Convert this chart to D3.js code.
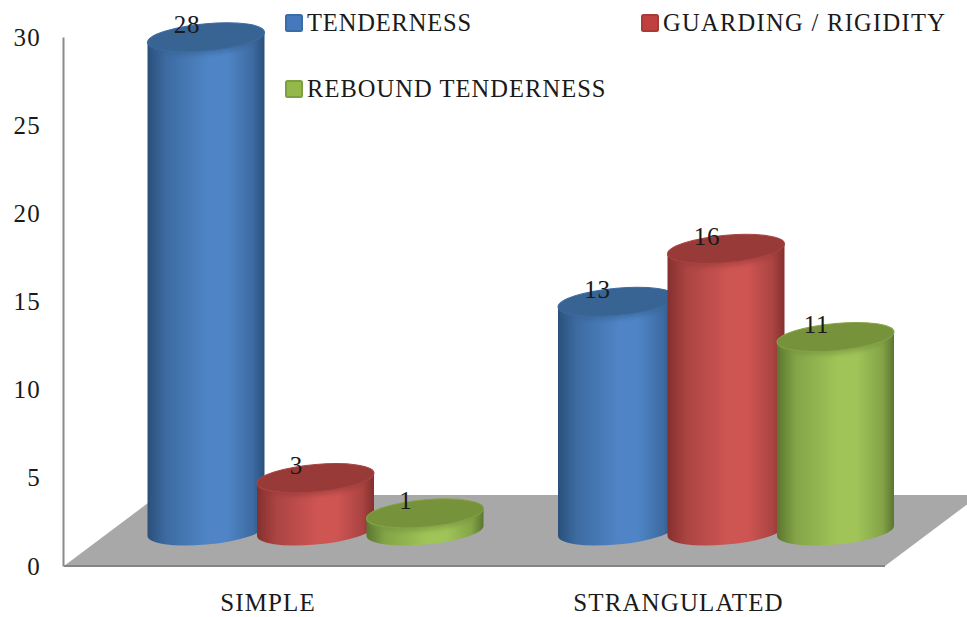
<!DOCTYPE html>
<html>
<head>
<meta charset="utf-8">
<style>
  html, body { margin: 0; padding: 0; background: #fff; }
  svg { display: block; }
  text { font-family: "Liberation Serif", serif; fill: #1a1a1a; }
</style>
<script src="https://cdn.jsdelivr.net/npm/d3@7"></script>
</head>
<body>
<svg id="chart" width="967" height="617"></svg>
<script>
// Chart data
const categories = ["SIMPLE", "STRANGULATED"];
const seriesNames = ["TENDERNESS", "GUARDING / RIGIDITY", "REBOUND TENDERNESS"];
const tenderness = [28, 13];
const guarding = [3, 16];
const rebound = [1, 11];
const yTicks = [0, 5, 10, 15, 20, 25, 30];

const seriesValues = [tenderness, guarding, rebound];
const palette = [
  { top: "#376493", edge: "#2a5079", mid: "#4f85c6", rim: "#3d6ba2", key: "#4479bb", keyEdge: "#3a6ca8" },
  { top: "#973a38", edge: "#84302e", mid: "#cf5553", rim: "#aa4442", key: "#c0403d", keyEdge: "#a83a37" },
  { top: "#76933c", edge: "#5a7630", mid: "#a1c459", rim: "#84a447", key: "#94b84a", keyEdge: "#7e9f3e" }
];

const svg = d3.select("#chart");
const defs = svg.append("defs");

// Scales: the value scale runs along the back wall, categories along the floor
const y = d3.scaleLinear().domain([0, 30]).range([566, 37]);
const xCategory = d3.scaleBand().domain(categories).range([110.25, 931.25]);
const xSeries = d3.scalePoint().domain(seriesNames).range([-109.5, 109.5]);

// Perspective settings for the floor and cylinders
const baseY = y(0) - 35;
const rx = 58.5, ry = 13.6, shear = 0.086;
const floorBackY = 495, floorSlope = 0.75;
const floorLeft = 64, floorRight = 885;
const labelShiftX = -47.5;

// Horizontal shading that gives each cylinder its roundness
palette.forEach((c, i) => {
  const g = defs.append("linearGradient").attr("id", "body" + i)
    .attr("x1", 0).attr("x2", 1).attr("y1", 0).attr("y2", 0);
  [[0, c.edge], [0.16, c.rim], [0.52, c.mid], [0.68, c.mid], [0.9, c.rim], [1, c.edge]]
    .forEach(([o, col]) => g.append("stop").attr("offset", o).attr("stop-color", col));
});

defs.append("filter").attr("id", "soft").attr("x", "-5%").attr("y", "-30%").attr("width", "110%").attr("height", "160%")
  .append("feGaussianBlur").attr("stdDeviation", 2);

// Floor
const floorDepth = (y(0) - floorBackY) / floorSlope;
svg.append("path")
  .attr("d", d3.line()([
    [floorLeft, y(0)],
    [floorRight, y(0)],
    [floorRight + floorDepth, floorBackY],
    [floorLeft + floorDepth, floorBackY]
  ]) + "Z")
  .attr("fill", "#a8a8a8");
svg.append("line")
  .attr("x1", floorLeft).attr("x2", floorRight)
  .attr("y1", y(0)).attr("y2", y(0))
  .attr("stroke", "#858585").attr("stroke-width", 2);

// Value axis
const yAxis = svg.append("g")
  .attr("transform", "translate(63,0)")
  .call(d3.axisLeft(y).tickValues(yTicks).tickSize(0).tickPadding(22));
yAxis.select(".domain").attr("stroke", "#8a8a8a").attr("stroke-width", 2);
yAxis.selectAll("text")
  .attr("font-size", 25)
  .style("font-family", '"Liberation Serif", serif')
  .attr("letter-spacing", 1.2)
  .attr("fill", "#1a1a1a");

// Category axis sits in front of the floor
const xAxis = svg.append("g")
  .attr("transform", `translate(${labelShiftX},${y(0)})`)
  .call(d3.axisBottom(xCategory).tickSize(0).tickPadding(27.5));
xAxis.select(".domain").remove();
xAxis.selectAll("text")
  .attr("font-size", 25)
  .style("font-family", '"Liberation Serif", serif')
  .attr("letter-spacing", 1.1)
  .attr("fill", "#1a1a1a");

// Flatten the series into one record per cylinder, painted left to right
const marks = categories.flatMap((cat, ci) =>
  seriesNames.map((name, si) => ({ cat, name, si, value: seriesValues[si][ci] })));

const k = y(0) - y(1);

// Cylinders, in local coordinates sheared so the discs tilt upward to the right
const cyl = svg.append("g").selectAll("g").data(marks).join("g")
  .attr("transform", d => {
    const cx = xCategory(d.cat) + xCategory.bandwidth() / 2 + xSeries(d.name);
    return `matrix(1,${-shear},0,1,${cx},${baseY})`;
  });

cyl.append("path")
  .attr("d", d => {
    const h = d.value * k;
    return `M${-rx},${-h}L${-rx},0A${rx},${ry} 0 0 0 ${rx},0L${rx},${-h}Z`;
  })
  .attr("fill", d => `url(#body${d.si})`);

// Soft bevel shadow just under the rim of each disc
cyl.append("ellipse")
  .attr("cx", 0)
  .attr("cy", d => -d.value * k + 4)
  .attr("rx", rx - 3)
  .attr("ry", ry)
  .attr("fill", d => palette[d.si].top)
  .attr("opacity", 0.55)
  .attr("filter", "url(#soft)");

cyl.append("ellipse")
  .attr("cx", 0)
  .attr("cy", d => -d.value * k)
  .attr("rx", rx)
  .attr("ry", ry)
  .attr("fill", d => palette[d.si].top)
  .attr("stroke", d => palette[d.si].rim)
  .attr("stroke-width", 1);

// Value labels
svg.append("g").selectAll("text").data(marks).join("text")
  .attr("x", d => xCategory(d.cat) + xCategory.bandwidth() / 2 + xSeries(d.name) - 19)
  .attr("y", d => baseY - d.value * k - 4)
  .attr("text-anchor", "middle")
  .attr("font-size", 25)
  .attr("letter-spacing", 0.8)
  .attr("fill", "#111")
  .text(d => d.value);

// Legend
const legendPos = [[285, 14], [641, 14], [285, 80]];
const legendSpacing = [0.85, 1.3, 1.05];
const legend = svg.append("g").selectAll("g").data(seriesNames).join("g")
  .attr("transform", (d, i) => `translate(${legendPos[i][0]},${legendPos[i][1]})`);
legend.append("rect")
  .attr("x", 1).attr("y", 1).attr("width", 16).attr("height", 16).attr("rx", 1.5)
  .attr("fill", (d, i) => palette[i].key)
  .attr("stroke", (d, i) => palette[i].keyEdge).attr("stroke-width", 2);
legend.append("text")
  .attr("x", 22).attr("y", 16.5)
  .attr("font-size", 24.5)
  .attr("letter-spacing", (d, i) => legendSpacing[i])
  .attr("fill", "#1a1a1a")
  .text(d => d);
</script>
</body>
</html>
